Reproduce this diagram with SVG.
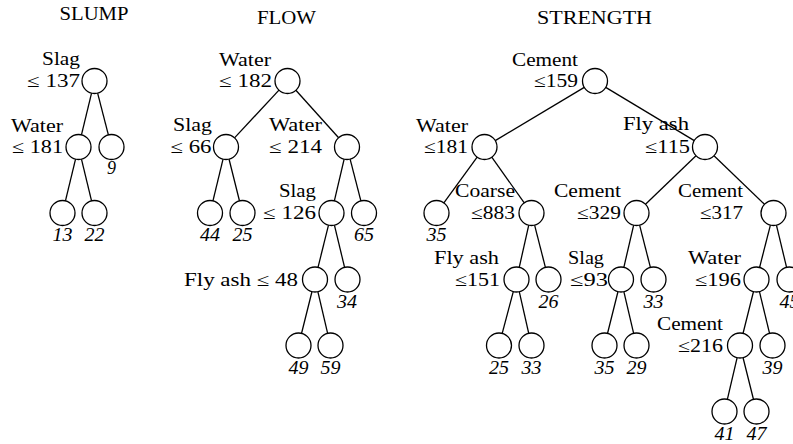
<svg xmlns="http://www.w3.org/2000/svg" width="793" height="444" viewBox="0 0 793 444">
<style>
text{font-family:"Liberation Serif","DejaVu Serif",serif;font-size:18px;fill:#000}
.t{text-anchor:middle}
.l{text-anchor:end}
.v{text-anchor:middle;font-style:italic}
circle{fill:#fff;stroke:#000;stroke-width:1.3}
#edges line{stroke:#000;stroke-width:1.3}
</style>
<rect width="793" height="444" fill="#fff"/>
<g id="titles">
<text class="t" x="94" y="20" textLength="69" lengthAdjust="spacingAndGlyphs">SLUMP</text>
<text class="t" x="286.5" y="24" textLength="59" lengthAdjust="spacingAndGlyphs">FLOW</text>
<text class="t" x="594.5" y="24" textLength="115" lengthAdjust="spacingAndGlyphs">STRENGTH</text>
</g>
<g id="edges">
<line x1="91.55" y1="93.15" x2="81.45" y2="134.85"/>
<line x1="97.62" y1="93.11" x2="108.38" y2="134.89"/>
<line x1="75.55" y1="159.15" x2="65.45" y2="200.85"/>
<line x1="81.45" y1="159.15" x2="91.55" y2="200.85"/>
<line x1="278.98" y1="90.15" x2="234.52" y2="137.85"/>
<line x1="295.87" y1="90.28" x2="338.63" y2="137.72"/>
<line x1="223.05" y1="159.15" x2="212.95" y2="200.85"/>
<line x1="229.03" y1="159.13" x2="239.47" y2="200.87"/>
<line x1="344.14" y1="159.17" x2="334.36" y2="200.83"/>
<line x1="350.12" y1="159.11" x2="360.88" y2="200.89"/>
<line x1="328.49" y1="225.13" x2="318.01" y2="267.37"/>
<line x1="334.42" y1="225.15" x2="344.58" y2="267.35"/>
<line x1="311.97" y1="291.63" x2="301.53" y2="333.37"/>
<line x1="317.86" y1="291.67" x2="327.64" y2="333.33"/>
<line x1="584.27" y1="87.41" x2="495.23" y2="140.59"/>
<line x1="605.72" y1="87.43" x2="694.28" y2="140.57"/>
<line x1="477.15" y1="157.11" x2="443.85" y2="202.89"/>
<line x1="491.75" y1="157.18" x2="524.25" y2="202.82"/>
<line x1="696" y1="155.67" x2="645.5" y2="204.33"/>
<line x1="714" y1="155.67" x2="764.5" y2="204.33"/>
<line x1="528.75" y1="225.19" x2="519.25" y2="267.31"/>
<line x1="534.6" y1="225.11" x2="545.4" y2="267.39"/>
<line x1="633.66" y1="225.17" x2="623.84" y2="267.33"/>
<line x1="639.6" y1="225.11" x2="650.4" y2="267.39"/>
<line x1="770.4" y1="225.11" x2="759.6" y2="267.39"/>
<line x1="776.42" y1="225.15" x2="786.58" y2="267.35"/>
<line x1="513.3" y1="291.58" x2="502.2" y2="333.42"/>
<line x1="519.27" y1="291.69" x2="528.73" y2="333.31"/>
<line x1="617.97" y1="291.63" x2="607.53" y2="333.37"/>
<line x1="623.86" y1="291.67" x2="633.64" y2="333.33"/>
<line x1="753.47" y1="291.63" x2="743.03" y2="333.37"/>
<line x1="759.45" y1="291.65" x2="769.55" y2="333.35"/>
<line x1="737.14" y1="357.67" x2="727.36" y2="399.33"/>
<line x1="743.03" y1="357.63" x2="753.47" y2="399.37"/>
</g>
<!-- SLUMP -->
<g id="s-slag137"><circle cx="94.5" cy="81" r="12.5"/><text class="l" x="80" y="65" textLength="38" lengthAdjust="spacingAndGlyphs">Slag</text><text class="l" x="80" y="87" textLength="53" lengthAdjust="spacingAndGlyphs">≤ 137</text></g>
<g id="s-water181"><circle cx="78.5" cy="147" r="12.5"/><text class="l" x="63" y="132" textLength="52" lengthAdjust="spacingAndGlyphs">Water</text><text class="l" x="63" y="153" textLength="51" lengthAdjust="spacingAndGlyphs">≤ 181</text></g>
<g id="s-9"><circle cx="111.5" cy="147" r="12.5"/><text class="v" x="111.5" y="174">9</text></g>
<g id="s-13"><circle cx="62.5" cy="213" r="12.5"/><text class="v" x="62.5" y="241" textLength="20" lengthAdjust="spacingAndGlyphs">13</text></g>
<g id="s-22"><circle cx="94.5" cy="213" r="12.5"/><text class="v" x="94.5" y="241" textLength="20" lengthAdjust="spacingAndGlyphs">22</text></g>
<!-- FLOW -->
<g id="f-water182"><circle cx="287.5" cy="81" r="12.5"/><text class="l" x="271" y="66" textLength="52" lengthAdjust="spacingAndGlyphs">Water</text><text class="l" x="272" y="87" textLength="53" lengthAdjust="spacingAndGlyphs">≤ 182</text></g>
<g id="f-slag66"><circle cx="226" cy="147" r="12.5"/><text class="l" x="212" y="131" textLength="39" lengthAdjust="spacingAndGlyphs">Slag</text><text class="l" x="211.5" y="153" textLength="41" lengthAdjust="spacingAndGlyphs">≤ 66</text></g>
<g id="f-water214"><circle cx="347" cy="147" r="12.5"/><text class="l" x="322" y="131" textLength="53" lengthAdjust="spacingAndGlyphs">Water</text><text class="l" x="322" y="153" textLength="53" lengthAdjust="spacingAndGlyphs">≤ 214</text></g>
<g id="f-44"><circle cx="210" cy="213" r="12.5"/><text class="v" x="210" y="241" textLength="20" lengthAdjust="spacingAndGlyphs">44</text></g>
<g id="f-25"><circle cx="242.5" cy="213" r="12.5"/><text class="v" x="242.5" y="241" textLength="20" lengthAdjust="spacingAndGlyphs">25</text></g>
<g id="f-slag126"><circle cx="331.5" cy="213" r="12.5"/><text class="l" x="316" y="197" textLength="37" lengthAdjust="spacingAndGlyphs">Slag</text><text class="l" x="316" y="219" textLength="53" lengthAdjust="spacingAndGlyphs">≤ 126</text></g>
<g id="f-65"><circle cx="364" cy="213" r="12.5"/><text class="v" x="364" y="241" textLength="20" lengthAdjust="spacingAndGlyphs">65</text></g>
<g id="f-flyash48"><circle cx="315" cy="279.5" r="12.5"/><text class="l" x="298" y="285.5" textLength="114" lengthAdjust="spacingAndGlyphs">Fly ash ≤ 48</text></g>
<g id="f-34"><circle cx="347.5" cy="279.5" r="12.5"/><text class="v" x="347" y="307.5" textLength="20" lengthAdjust="spacingAndGlyphs">34</text></g>
<g id="f-49"><circle cx="298.5" cy="345.5" r="12.5"/><text class="v" x="298.5" y="373.5" textLength="20" lengthAdjust="spacingAndGlyphs">49</text></g>
<g id="f-59"><circle cx="330.5" cy="345.5" r="12.5"/><text class="v" x="330.5" y="373.5" textLength="20" lengthAdjust="spacingAndGlyphs">59</text></g>
<!-- STRENGTH -->
<g id="g-cement159"><circle cx="595" cy="81" r="12.5"/><text class="l" x="578" y="66" textLength="66" lengthAdjust="spacingAndGlyphs">Cement</text><text class="l" x="578" y="87" textLength="44" lengthAdjust="spacingAndGlyphs">≤159</text></g>
<g id="g-water181"><circle cx="484.5" cy="147" r="12.5"/><text class="l" x="468" y="132" textLength="52" lengthAdjust="spacingAndGlyphs">Water</text><text class="l" x="468" y="153" textLength="44" lengthAdjust="spacingAndGlyphs">≤181</text></g>
<g id="g-flyash115"><circle cx="705" cy="147" r="12.5"/><text class="l" x="689" y="130" textLength="66" lengthAdjust="spacingAndGlyphs">Fly ash</text><text class="l" x="690" y="153" textLength="45" lengthAdjust="spacingAndGlyphs">≤115</text></g>
<g id="g-35a"><circle cx="436.5" cy="213" r="12.5"/><text class="v" x="436.5" y="241" textLength="20" lengthAdjust="spacingAndGlyphs">35</text></g>
<g id="g-coarse883"><circle cx="531.5" cy="213" r="12.5"/><text class="l" x="515" y="197" textLength="60" lengthAdjust="spacingAndGlyphs">Coarse</text><text class="l" x="515" y="219" textLength="44" lengthAdjust="spacingAndGlyphs">≤883</text></g>
<g id="g-cement329"><circle cx="636.5" cy="213" r="12.5"/><text class="l" x="621" y="197" textLength="67" lengthAdjust="spacingAndGlyphs">Cement</text><text class="l" x="621" y="219" textLength="44" lengthAdjust="spacingAndGlyphs">≤329</text></g>
<g id="g-cement317"><circle cx="773.5" cy="213" r="12.5"/><text class="l" x="743" y="197" textLength="65" lengthAdjust="spacingAndGlyphs">Cement</text><text class="l" x="743" y="219" textLength="43" lengthAdjust="spacingAndGlyphs">≤317</text></g>
<g id="g-flyash151"><circle cx="516.5" cy="279.5" r="12.5"/><text class="l" x="499" y="263.5" textLength="65" lengthAdjust="spacingAndGlyphs">Fly ash</text><text class="l" x="500" y="285.5" textLength="45" lengthAdjust="spacingAndGlyphs">≤151</text></g>
<g id="g-26"><circle cx="548.5" cy="279.5" r="12.5"/><text class="v" x="548.5" y="307.5" textLength="20" lengthAdjust="spacingAndGlyphs">26</text></g>
<g id="g-slag93"><circle cx="621" cy="279.5" r="12.5"/><text class="l" x="604" y="263.5" textLength="36" lengthAdjust="spacingAndGlyphs">Slag</text><text class="l" x="608" y="285.5" textLength="38" lengthAdjust="spacingAndGlyphs">≤93</text></g>
<g id="g-33a"><circle cx="653.5" cy="279.5" r="12.5"/><text class="v" x="653.5" y="307.5" textLength="20" lengthAdjust="spacingAndGlyphs">33</text></g>
<g id="g-water196"><circle cx="756.5" cy="279.5" r="12.5"/><text class="l" x="741" y="263.5" textLength="53" lengthAdjust="spacingAndGlyphs">Water</text><text class="l" x="741" y="285.5" textLength="46" lengthAdjust="spacingAndGlyphs">≤196</text></g>
<g id="g-45"><circle cx="789.5" cy="279.5" r="12.5"/><text class="v" x="789.5" y="307.5" textLength="20" lengthAdjust="spacingAndGlyphs">45</text></g>
<g id="g-25"><circle cx="499" cy="345.5" r="12.5"/><text class="v" x="499" y="373.5" textLength="20" lengthAdjust="spacingAndGlyphs">25</text></g>
<g id="g-33b"><circle cx="531.5" cy="345.5" r="12.5"/><text class="v" x="531.5" y="373.5" textLength="20" lengthAdjust="spacingAndGlyphs">33</text></g>
<g id="g-35b"><circle cx="604.5" cy="345.5" r="12.5"/><text class="v" x="604.5" y="373.5" textLength="20" lengthAdjust="spacingAndGlyphs">35</text></g>
<g id="g-29"><circle cx="636.5" cy="345.5" r="12.5"/><text class="v" x="636.5" y="373.5" textLength="20" lengthAdjust="spacingAndGlyphs">29</text></g>
<g id="g-cement216"><circle cx="740" cy="345.5" r="12.5"/><text class="l" x="723" y="330" textLength="66" lengthAdjust="spacingAndGlyphs">Cement</text><text class="l" x="723" y="352" textLength="45" lengthAdjust="spacingAndGlyphs">≤216</text></g>
<g id="g-39"><circle cx="772.5" cy="345.5" r="12.5"/><text class="v" x="772.5" y="373.5" textLength="20" lengthAdjust="spacingAndGlyphs">39</text></g>
<g id="g-41"><circle cx="724.5" cy="411.5" r="12.5"/><text class="v" x="724.5" y="439.5" textLength="20" lengthAdjust="spacingAndGlyphs">41</text></g>
<g id="g-47"><circle cx="756.5" cy="411.5" r="12.5"/><text class="v" x="756.5" y="439.5" textLength="20" lengthAdjust="spacingAndGlyphs">47</text></g>
</svg>
